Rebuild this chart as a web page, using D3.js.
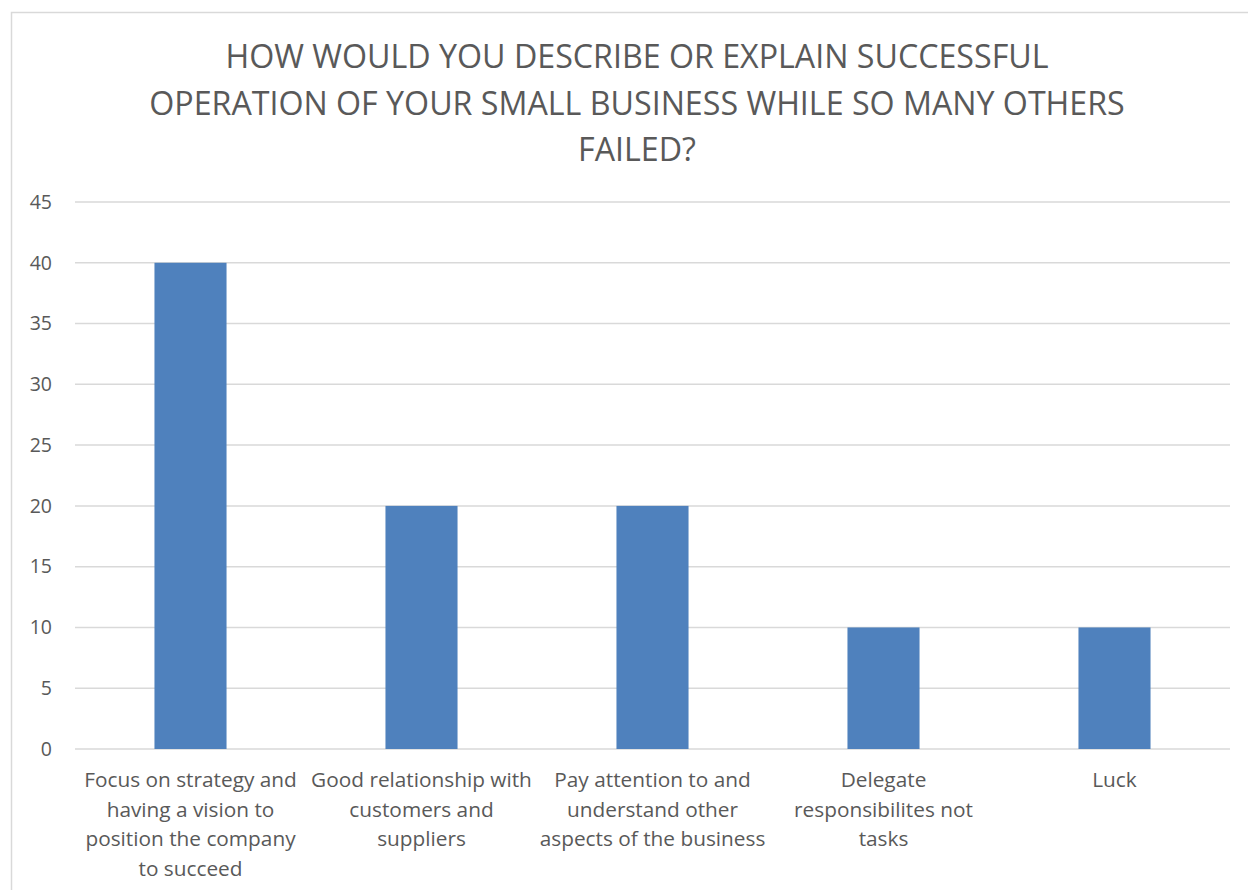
<!DOCTYPE html>
<html>
<head>
    <script src="https://d3js.org/d3.v7.min.js"></script>
    <style>
      body { margin: 0; background: #fff; }
      .tick-label { font-size: 19.5px; fill: #595959; font-family: 'Open Sans'; }
      .cat-label { font-size: 20.8px; fill: #595959; font-family: 'Open Sans'; }
      .title { font-size: 32.2px; fill: #595959; font-family: 'Open Sans'; }
    </style>
</head>
<body>
    <svg width="1248" height="890"></svg>
    <script>
        // Chart data
        let titleLines = [
            "HOW WOULD YOU DESCRIBE OR EXPLAIN SUCCESSFUL",
            "OPERATION OF YOUR SMALL BUSINESS WHILE SO MANY OTHERS",
            "FAILED?"
        ];
        let categories = ["Focus", "Relationship", "Attention", "Delegate", "Luck"];
        let categoryLabels = [
            ["Focus on strategy and", "having a vision to", "position the company", "to succeed"],
            ["Good relationship with", "customers and", "suppliers"],
            ["Pay attention to and", "understand other", "aspects of the business"],
            ["Delegate", "responsibilites not", "tasks"],
            ["Luck"]
        ];
        let values = [40, 20, 20, 10, 10];
        let yTicks = [0, 5, 10, 15, 20, 25, 30, 35, 40, 45];

        let svg = d3.select("svg");

        // chart border
        svg.append("rect")
           .attr("x", 11.5).attr("y", 12.5)
           .attr("width", 1252).attr("height", 900)
           .attr("fill", "none")
           .attr("stroke", "#d9d9d9")
           .attr("stroke-width", 1.5);

        let plot = {left: 75, right: 1230, top: 202, bottom: 749};

        let x = d3.scaleBand()
                  .domain(categories)
                  .range([plot.left, plot.right])
                  .paddingInner(0.688)
                  .paddingOuter(0.344);

        let y = d3.scaleLinear()
                  .domain([0, 45])
                  .range([plot.bottom, plot.top]);

        // gridlines
        svg.append("g")
           .selectAll("line")
           .data(yTicks)
           .join("line")
           .attr("x1", plot.left).attr("x2", plot.right)
           .attr("y1", d => y(d)).attr("y2", d => y(d))
           .attr("stroke", "#d9d9d9")
           .attr("stroke-width", 1.5);

        // y tick labels
        svg.append("g")
           .selectAll("text")
           .data(yTicks)
           .join("text")
           .attr("class", "tick-label")
           .attr("x", 52)
           .attr("y", d => y(d))
           .attr("dy", "0.35em")
           .attr("text-anchor", "end")
           .text(d => d);

        // bars
        svg.append("g")
           .selectAll("rect")
           .data(values)
           .join("rect")
           .attr("x", (d, i) => x(categories[i]))
           .attr("y", d => y(d))
           .attr("width", x.bandwidth())
           .attr("height", d => y(0) - y(d))
           .attr("fill", "#4f81bd");

        // category labels
        categoryLabels.forEach((lines, i) => {
            let cx = x(categories[i]) + x.bandwidth() / 2;
            let t = svg.append("text")
               .attr("class", "cat-label")
               .attr("text-anchor", "middle");
            lines.forEach((line, j) => {
                t.append("tspan")
                 .attr("x", cx)
                 .attr("y", 787 + j * 29.5)
                 .text(line);
            });
        });

        // title
        svg.append("g")
           .selectAll("text")
           .data(titleLines)
           .join("text")
           .attr("class", "title")
           .attr("x", 637)
           .attr("y", (d, i) => 68 + i * 46.5)
           .attr("text-anchor", "middle")
           .text(d => d);
    </script>
</body>
</html>
